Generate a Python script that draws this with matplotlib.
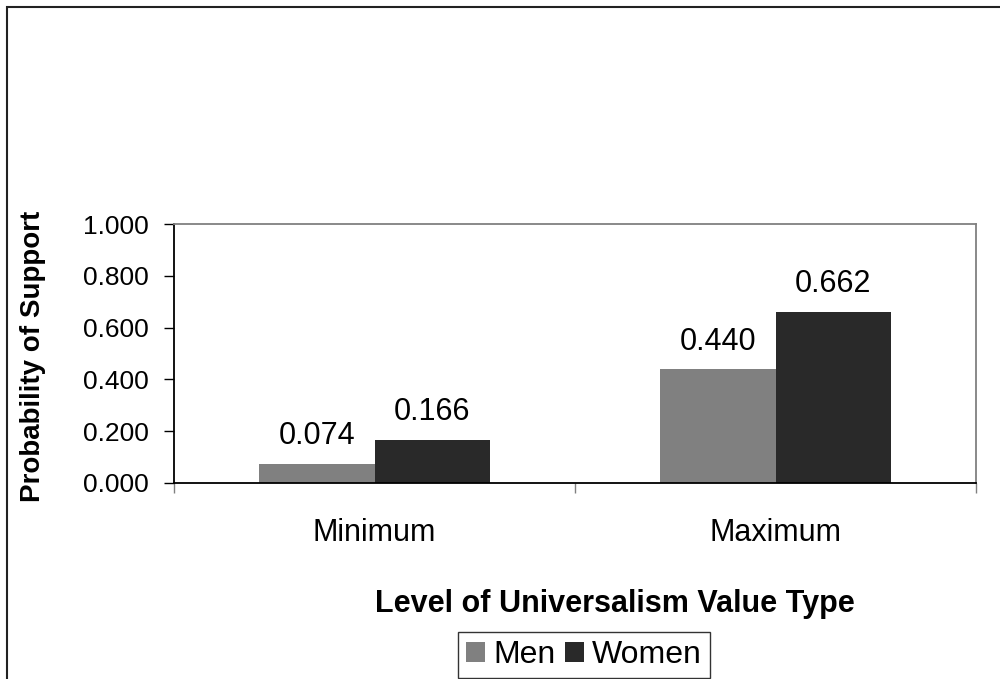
import numpy as np
import matplotlib
matplotlib.use('Agg')
from matplotlib import pyplot as plt
from matplotlib.patches import Rectangle

plt.rcParams['font.family'] = ['Liberation Sans', 'DejaVu Sans']

categories = ['Minimum', 'Maximum']
series_names = ['Men', 'Women']
men = [0.074, 0.440]
women = [0.166, 0.662]
y_ticks = [0.0, 0.2, 0.4, 0.6, 0.8, 1.0]

men_color = '#808080'
women_color = '#292929'

fig = plt.figure(figsize=(10, 6.79), dpi=100)
ax = fig.add_axes([0.174, 0.2887, 0.802, 0.3814])

x = np.arange(len(categories))
width = 0.287
bars_m = ax.bar(x - width / 2, men, width, color=men_color, label=series_names[0])
bars_w = ax.bar(x + width / 2, women, width, color=women_color, label=series_names[1])

for bars in (bars_m, bars_w):
    for bar in bars:
        h = bar.get_height()
        ax.annotate(f'{h:.3f}', (bar.get_x() + bar.get_width() / 2, h),
                    xytext=(0, 9), textcoords='offset points',
                    ha='center', va='bottom', fontsize=22)

ax.set_xlim(-0.5, 1.5)
ax.set_ylim(0, 1.0)
ax.set_yticks(y_ticks)
ax.set_yticklabels([f'{v:.3f}' for v in y_ticks], fontsize=19)
ax.tick_params(axis='y', length=7, width=1, direction='out', pad=11)

ax.set_xticks(x)
ax.set_xticklabels(categories, fontsize=22)
ax.tick_params(axis='x', length=0, pad=25)
ax.set_xticks([-0.5, 0.5, 1.5], minor=True)
ax.tick_params(axis='x', which='minor', length=7, width=1, color='#808080', direction='out')

ax.spines['left'].set_color('black')
ax.spines['left'].set_linewidth(1.3)
ax.spines['bottom'].set_color('black')
ax.spines['bottom'].set_linewidth(1.3)
ax.spines['top'].set_color('#808080')
ax.spines['top'].set_linewidth(1.3)
ax.spines['right'].set_color('#808080')
ax.spines['right'].set_linewidth(1.3)

fig.text(0.033, 1 - 356 / 679, 'Probability of Support', rotation=90,
         ha='center', va='center', fontsize=20, fontweight='bold')
fig.text(0.615, 1 - 604 / 679, 'Level of Universalism Value Type',
         ha='center', va='center', fontsize=22, fontweight='bold')

leg = fig.legend(loc='upper left', bbox_to_anchor=(0.458, 1 - 632 / 679),
                 ncol=2, fontsize=23, frameon=True, fancybox=False,
                 handlelength=0.6, handleheight=0.6, handletextpad=0.25,
                 columnspacing=0.3, borderpad=0.25, borderaxespad=0)
leg.get_frame().set_edgecolor('black')
leg.get_frame().set_linewidth(1.0)

# outer chart border
fig.patches.append(Rectangle((0.007, -0.1), 1.1, 0.9897 + 0.1, transform=fig.transFigure,
                             fill=False, edgecolor='#222222', linewidth=1.5, zorder=0))

fig.savefig('out.png', dpi=100)
